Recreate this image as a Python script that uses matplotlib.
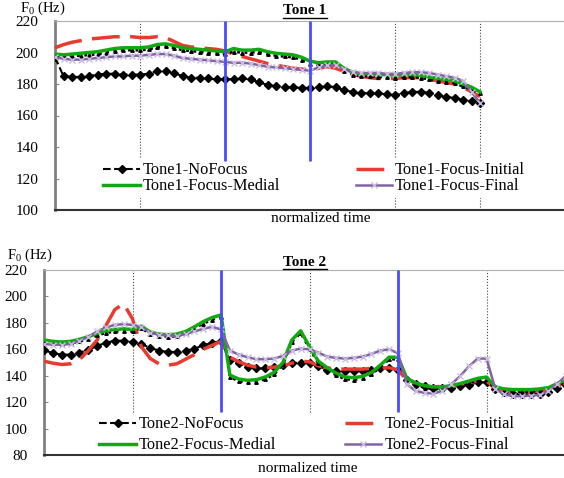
import numpy as np
import matplotlib.pyplot as plt
from matplotlib.lines import Line2D

plt.rcParams['font.family'] = ['Liberation Serif', 'DejaVu Serif']
plt.rcParams['font.size'] = 11

# ---- Tone 1 (samples every 0.1 of normalized time, 0..5) ----
t1_time = np.linspace(0, 5, 51)
t1_nofocus = [197, 185, 184.5, 184.5, 185, 186, 186.5, 186.5, 186, 186,
              186, 186.5, 188, 188.5, 187, 185, 184, 184, 183.5, 183,
              183, 183, 183.5, 183, 181, 179.5, 178.5, 178, 178, 177.5,
              177.5, 178, 178.5, 178, 176, 175, 174.5, 174, 174, 173.5,
              173, 174, 175, 175, 174.5, 173, 172, 171, 170, 169, 168]
t1_initial = [203, 205, 206.5, 207.5, 208.5, 209, 209.5, 210, 210, 210,
              209.5, 209.5, 210, 209.5, 207, 204.5, 203.5, 203, 202.5, 202,
              201, 199, 197.5, 196, 194.5, 193, 192, 191, 190, 189.5,
              189, 190, 191, 190, 188, 186, 185, 184, 183.5, 183.5,
              183.5, 184, 184, 184, 183, 182, 181, 180, 178, 175, 172]
t1_medial = [199, 198.5, 199, 199.5, 200, 200.5, 201.5, 202.5, 203, 203,
             203, 203.5, 205, 205.5, 204.5, 203, 202.5, 202, 201.5, 201,
             200.5, 202.5, 201.5, 201.5, 202, 200.5, 199.5, 199, 198.5, 197,
             194.5, 193.5, 194, 194, 190, 187.5, 186.5, 186.5, 186, 186,
             185.5, 186, 186, 185.5, 184.5, 183.5, 183, 182, 180, 178, 175]
t1_dotted = [198, 197.5, 198, 198, 198.5, 199, 200, 201, 201.5, 201.5,
             201.5, 202, 203.5, 204, 203, 201.5, 201, 200.5, 200, 199.5,
             199, 200.5, 200, 200, 200.5, 199, 198, 197.5, 197, 195.5,
             193, 192, 192.5, 192.5, 188.5, 186, 185, 185, 184.5, 184.5,
             184, 184.5, 184.5, 184, 183, 182, 181.5, 180.5, 178.5, 176.5, 174.5]
t1_final = [197, 196, 195.5, 195.5, 196, 196.5, 197, 197.5, 197.5, 198,
            198, 198.5, 199, 199, 198, 196.5, 196, 195.5, 195, 194.5,
            194, 193.5, 193.5, 193, 192, 191, 190.5, 190, 189.5, 189,
            188.5, 190.5, 192, 192, 189.5, 187.5, 187, 187, 187, 186.5,
            186.5, 187, 187.5, 187.5, 187, 186, 185, 184, 182, 175, 168]

# ---- Tone 2 (samples every 0.1 of normalized time, 0..6) ----
t2_time = np.linspace(0, 6, 61)
t2_nofocus = [159.5, 157, 156, 156, 157.5, 159.5, 162.5, 165, 166.5, 166.5,
              165.5, 164, 161, 159, 158, 158, 159, 160.5, 163, 165,
              166, 152, 149.5, 146.5, 145.5, 145.5, 146.5, 148, 149.5, 150,
              149.5, 147, 144.5, 143.5, 143.5, 143.5, 143.5, 144.5, 145.5, 145.5,
              144.5, 137, 134, 132, 131, 130.5, 131, 132, 133, 135,
              135, 130, 127.5, 126.5, 126, 126, 126.5, 128, 131, 133, 134]
t2_initial = [151, 149.5, 148.5, 149, 152, 159, 167, 178, 190, 194.5,
              183, 162, 153, 149, 148, 149, 152.5, 156, 160, 163,
              166, 154, 150.5, 148, 146.5, 146, 146.5, 147.5, 149.5, 151,
              150.5, 147.5, 146, 145, 145, 145, 145, 145.5, 146, 146,
              144.5, 136.5, 134, 132, 131.5, 132, 132.5, 133.5, 134.5, 136,
              136, 130.5, 129, 128, 128, 128, 128.5, 130, 132.5, 135, 136]
t2_medial = [167, 166, 165.5, 166, 167.5, 169.5, 172, 174, 175, 175.5,
             175, 177.5, 173, 171.5, 171, 171.5, 173.5, 177, 181, 184,
             186, 140.5, 137.5, 136.5, 137, 139, 142.5, 150, 167, 174,
             162, 151, 146, 142, 139, 138.5, 139.5, 142.5, 148, 154,
             154, 138, 134.5, 132.5, 131.5, 131.5, 132.5, 134, 136, 138,
             139, 131.5, 130, 129.5, 129.5, 129.5, 130, 131, 134, 137, 139]
t2_dotted = [166, 164.5, 164, 164.5, 166, 168, 170.5, 172.5, 173.5, 174,
             173.5, 176, 171.5, 170, 169.5, 170, 172, 175.5, 179.5, 182.5,
             184.5, 139, 136, 135, 135.5, 137.5, 141, 148.5, 165.5, 172.5,
             160.5, 149.5, 144.5, 140.5, 137.5, 137, 138, 141, 146.5, 152.5,
             152.5, 136.5, 133, 131, 130, 130, 131, 132.5, 134.5, 136.5,
             137.5, 130, 128.5, 128, 128, 128, 128.5, 129.5, 132.5, 135.5, 137.5]
t2_final = [164, 163.5, 163.5, 164, 166.5, 169.5, 173.5, 176.5, 178.5, 179,
            178.5, 177, 172.5, 171, 170.5, 170, 171.5, 173.5, 175.5, 177,
            175, 159, 156, 154, 152.5, 152.5, 153, 155, 159, 160.5,
            160, 157.5, 154.5, 153.5, 153, 153.5, 154.5, 156.5, 159, 160,
            157, 133.5, 128.5, 127, 126.5, 128.5, 133.5, 139.5, 147, 153,
            153, 130, 126, 124.5, 124.5, 125, 125.5, 128.5, 134, 140, 144]

fig = plt.figure(figsize=(5.64, 4.78), dpi=100)

RED = '#e63b2e'
GREEN = '#12a812'
PURPLE = '#8064a2'
BLUE = '#4b4bff'


def panel(rect, t, nofocus, initial, medial, dotted, final, name,
          ylo, blue_at, grid_at, blue_low, grid_low):
    ax = fig.add_axes(rect)
    ax.set_xlim(0, 6)
    ax.set_ylim(ylo, 220)
    ax.set_yticks(np.arange(ylo, 221, 20))
    ax.set_xticks([])
    ax.tick_params(axis='y', direction='in', length=3, color='#888', pad=12)
    ax.spines['right'].set_visible(False)
    ax.spines['top'].set_color('#b0b0b0')
    ax.spines['left'].set_color('#808080')
    ax.spines['left'].set_linewidth(2)
    ax.spines['bottom'].set_color('#333')
    ax.spines['bottom'].set_linewidth(1.5)

    ax.vlines(grid_at, grid_low, 220, colors='#444', linestyles=':', lw=0.8, zorder=1)
    ax.vlines(blue_at, blue_low, 220, colors=BLUE, lw=2, zorder=8)

    h1, = ax.plot(t, nofocus, color='black', ls='--', lw=1.5, marker='D', ms=4.5,
                  label=name + '-NoFocus', zorder=3)
    h2, = ax.plot(t, initial, color=RED, lw=2.5, dashes=(8, 3),
                  label=name + '-Focus-Initial', zorder=3)
    ax.plot(t, dotted, color='black', ls=':', lw=2, marker='^', ms=2.5, zorder=3)
    h3, = ax.plot(t, medial, color=GREEN, lw=2.5, label=name + '-Focus-Medial', zorder=4)
    h4, = ax.plot(t, final, color=PURPLE, lw=1.8, marker='x', ms=5, mec='#c9bce0',
                  mew=1, label=name + '-Focus-Final', zorder=5)
    return ax, [h1, h3, h2, h4]


ax1, hs1 = panel([55 / 564, 1 - 210 / 478, 510 / 564, 189 / 478],
                 t1_time, t1_nofocus, t1_initial, t1_medial, t1_dotted, t1_final,
                 'Tone1', 100, [2, 3], [1, 4, 5], 131, 100)
ax2, hs2 = panel([44 / 564, 1 - 455 / 478, 531 / 564, 185 / 478],
                 t2_time, t2_nofocus, t2_initial, t2_medial, t2_dotted, t2_final,
                 'Tone2', 80, [2, 4], [1, 3, 5], 112.5, 112.5)

# legends sit above the dotted grid (zorder 1) but under the spines (2.5)
leg1 = ax1.legend(handles=hs1, ncol=2, loc='upper left',
                  bbox_to_anchor=(92 / 564, 1 - 151 / 478), bbox_transform=fig.transFigure,
                  fontsize=11.8, frameon=True, facecolor='white', edgecolor='none',
                  framealpha=1, handlelength=2.2, handletextpad=0.2,
                  columnspacing=4.6, labelspacing=0.0, borderpad=0.2)
leg1.set_zorder(2)
leg2 = ax2.legend(handles=hs2, ncol=2, loc='upper left',
                  bbox_to_anchor=(88 / 564, 1 - 405 / 478), bbox_transform=fig.transFigure,
                  fontsize=11.8, frameon=True, facecolor='white', edgecolor='none',
                  framealpha=1, handlelength=2.2, handletextpad=0.2,
                  columnspacing=4.2, labelspacing=0.3, borderpad=0.2)
leg2.set_zorder(2)

# labels and titles
fig.text(20 / 564, 1 - 8 / 478, r'$\mathregular{F_0}$ (Hz)', ha='left', va='center', fontsize=10.5)
fig.text(7 / 564, 1 - 255 / 478, r'$\mathregular{F_0}$ (Hz)', ha='left', va='center', fontsize=10.5)
fig.text(321 / 564, 1 - 219 / 478, 'normalized time', ha='center', va='center')
fig.text(308 / 564, 1 - 469 / 478, 'normalized time', ha='center', va='center')

titles = [fig.text(305 / 564, 1 - 11 / 478, 'Tone 1', ha='center', va='center', weight='bold'),
          fig.text(305 / 564, 1 - 262 / 478, 'Tone 2', ha='center', va='center', weight='bold')]
fig.canvas.draw()
inv = fig.transFigure.inverted()
for tt in titles:
    bb = tt.get_window_extent()
    (x0, y0), (x1, _) = inv.transform([(bb.x0, bb.y0), (bb.x1, bb.y1)])
    fig.add_artist(Line2D([x0, x1], [y0, y0], color='black', lw=1))

fig.savefig('out.png', dpi=100)
